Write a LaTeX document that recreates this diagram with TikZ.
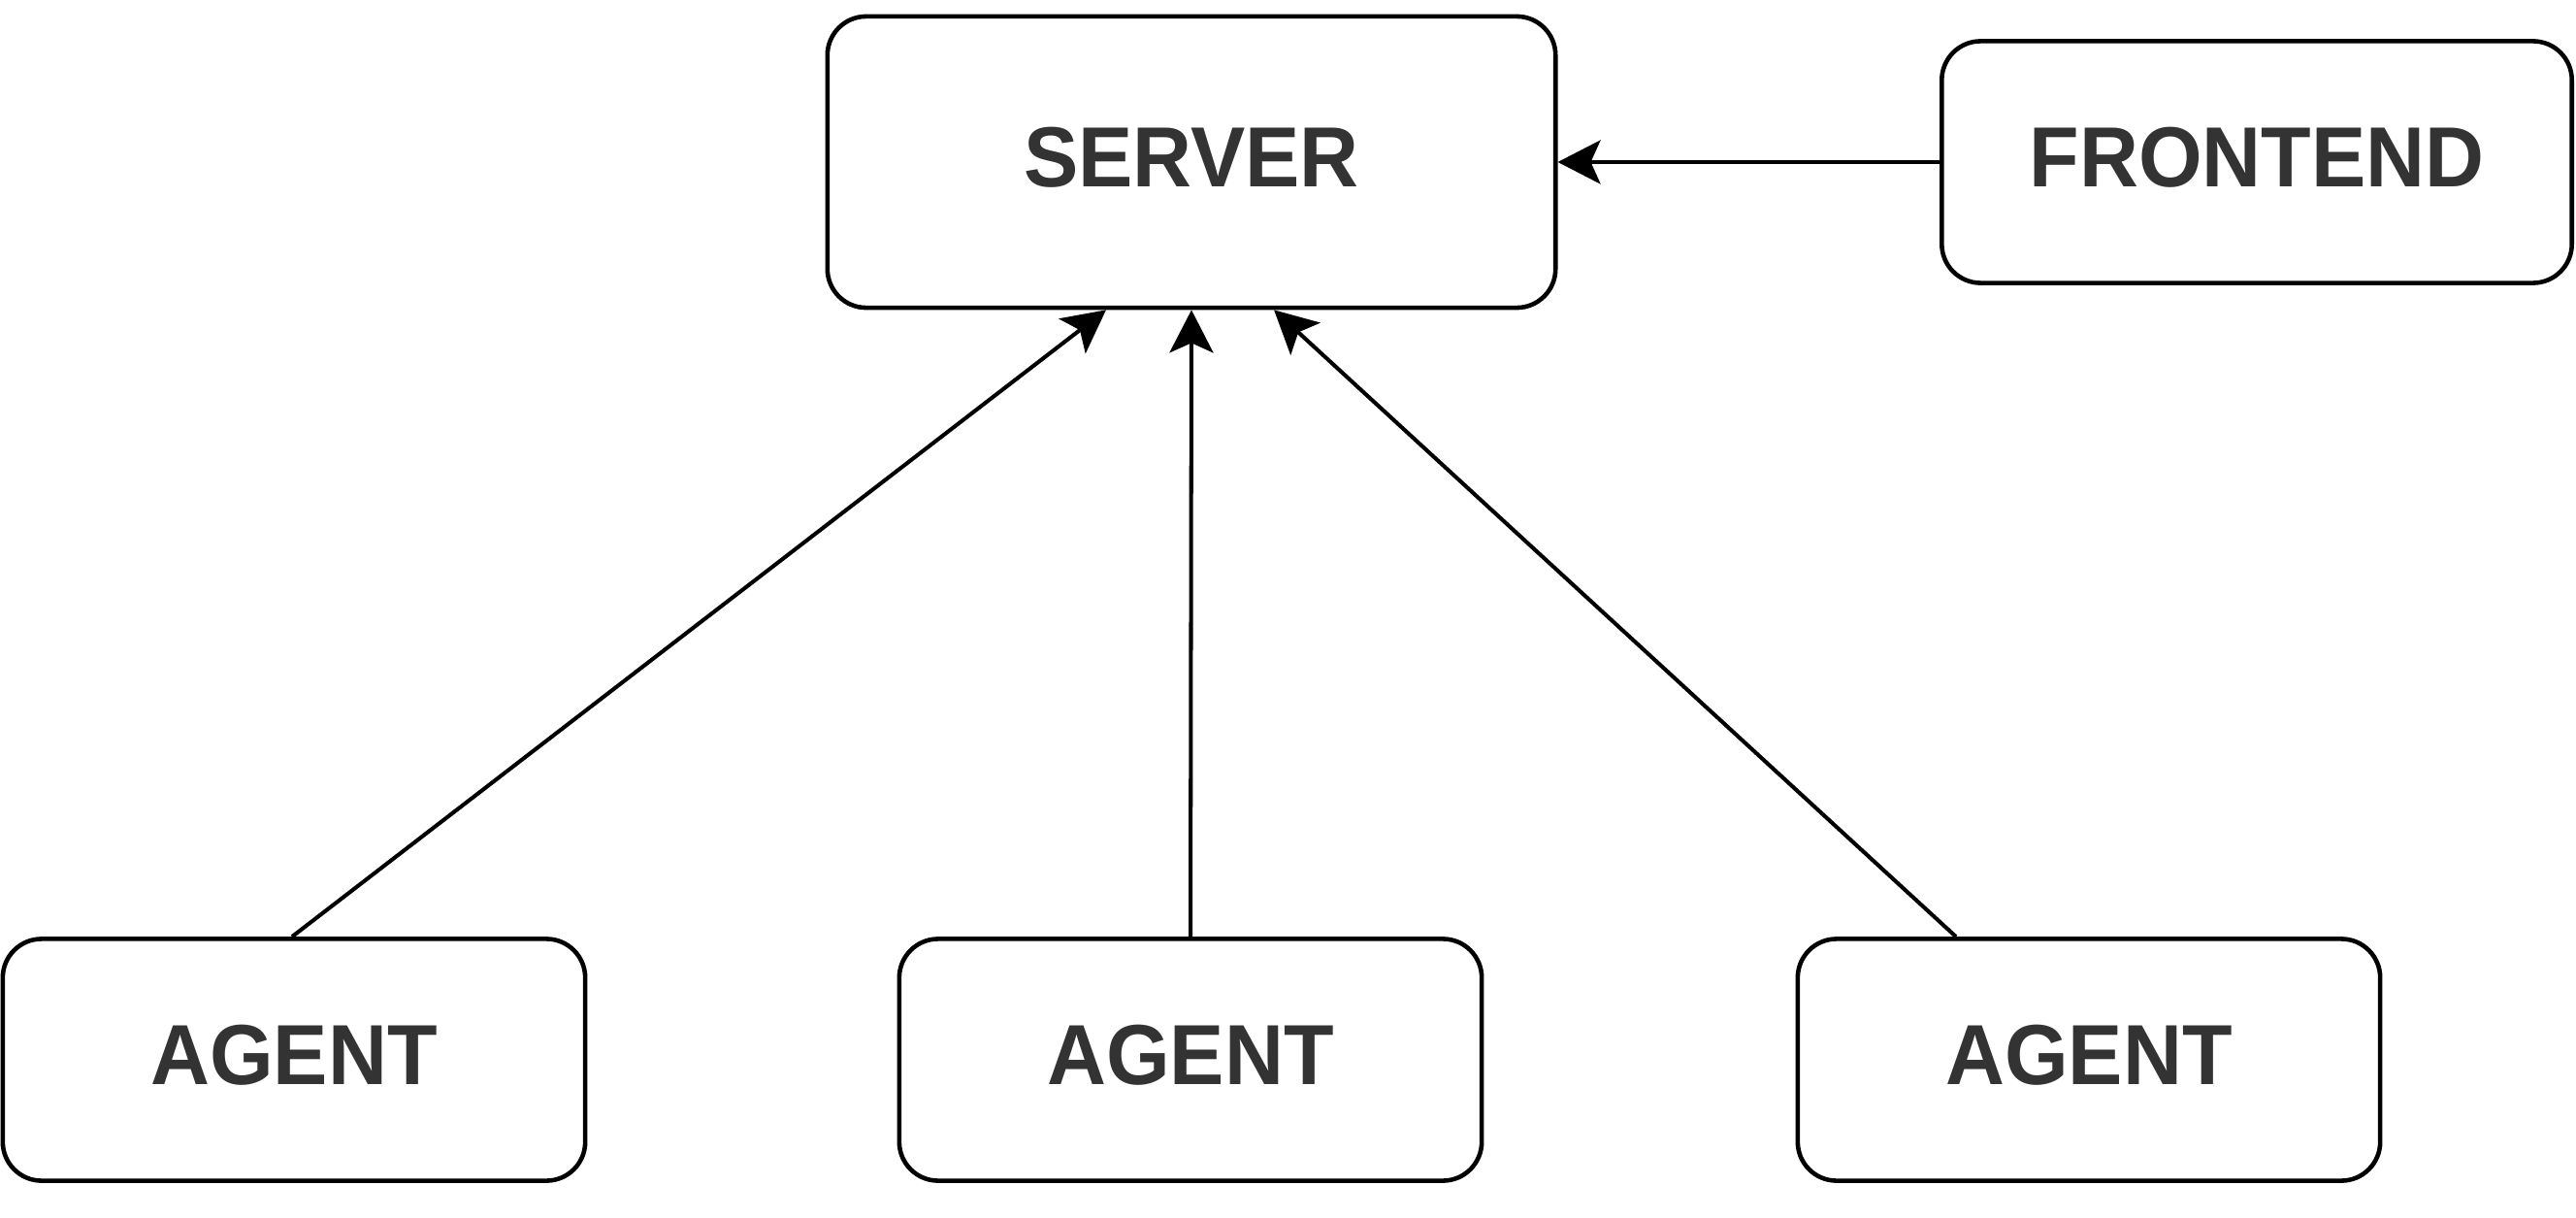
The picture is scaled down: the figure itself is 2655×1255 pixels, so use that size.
\documentclass[tikz,border=0pt]{standalone}
\usepackage{fontspec}
\setmainfont{Liberation Sans}[FakeStretch=0.96]
\usetikzlibrary{arrows.meta,calc}
\definecolor{txt}{HTML}{333333}
\tikzset{
  box/.style={draw=black, line width=1.3pt, rounded corners=0.4cm, fill=white,
    inner sep=0pt, text depth=0.1cm, font=\bfseries\fontsize{25}{29}\selectfont, text=txt},
  link/.style={draw=black, line width=1.15pt,
    -{Stealth[length=0.44cm, width=0.45cm, inset=0.1cm]}}
}
\begin{document}
\begin{tikzpicture}[x=0.01cm, y=-0.01cm]
\useasboundingbox (0,0) rectangle (2655,1255);
\node[box, minimum width=7.5cm, minimum height=3cm] (server) at (1228,167) {SERVER};
\node[box, minimum width=6.49cm, minimum height=2.49cm] (frontend) at (2326,167) {FRONTEND};
\node[box, minimum width=6cm, minimum height=2.49cm] (agentA) at (303,1092) {AGENT};
\node[box, minimum width=6cm, minimum height=2.49cm] (agentB) at (1227,1092) {AGENT};
\node[box, minimum width=6cm, minimum height=2.49cm] (agentC) at (2153,1092) {AGENT};
\draw[link] (frontend.west) -- (server.east);
\draw[link] ([xshift=-0.02cm]agentA.north) -- ([xshift=-0.88cm]server.south);
\draw[link] (agentB.north) -- (server.south);
\draw[link] ([xshift=-1.37cm]agentC.north) -- ([xshift=0.85cm]server.south);
\end{tikzpicture}
\end{document}
